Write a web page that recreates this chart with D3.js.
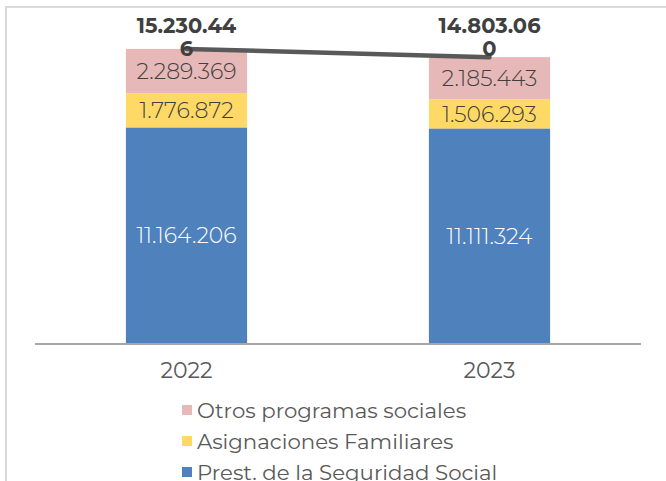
<!DOCTYPE html>
<html>
<head>
<meta charset="utf-8">
<script src="https://cdn.jsdelivr.net/npm/d3@7"></script>
<style>
  body { margin: 0; background: #fff; }
  text { font-family: "Montserrat", "Lato", "Noto Sans", sans-serif; }
</style>
</head>
<body>
<script>
// data
const years = ["2022", "2023"];
const series = ["Prest. de la Seguridad Social", "Asignaciones Familiares", "Otros programas sociales"];
const prestSeguridad = [11164206, 11111324];
const asignaciones = [1776872, 1506293];
const otrosProgramas = [2289369, 2185443];
const totals = [15230446, 14803060];

const colors = ["#4f81bd", "#ffd966", "#e6b8b7"];
const labelColors = ["#ffffff", "#404040", "#404040"];

const W = 666, H = 481;
const svg = d3.select("body").append("svg")
    .attr("width", W)
    .attr("height", H);

// chart frame (light gray, top and left only visible)
svg.append("path")
    .attr("d", "M6,481 L6,7 L666,7")
    .attr("fill", "none")
    .attr("stroke", "#d9d9d9")
    .attr("stroke-width", 2);

const x = d3.scaleBand()
    .domain(years)
    .range([35, 641])
    .paddingInner(0.6)
    .paddingOuter(0.3);

const y = d3.scaleLinear()
    .domain([0, 16000000])
    .range([343, 343 - 16 * 19.31]);

// stacked data
const rows = years.map((yr, i) => ({
    year: yr,
    s0: prestSeguridad[i],
    s1: asignaciones[i],
    s2: otrosProgramas[i]
}));
const stack = d3.stack().keys(["s0", "s1", "s2"])(rows);

const fmt = v => d3.format(",")(v).replace(/,/g, ".");

const layers = svg.selectAll(".layer")
    .data(stack)
    .enter().append("g")
    .attr("class", "layer")
    .attr("fill", (d, i) => colors[i]);

layers.selectAll("rect")
    .data(d => d)
    .enter().append("rect")
    .attr("x", d => x(d.data.year))
    .attr("width", x.bandwidth())
    .attr("y", d => y(d[1]))
    .attr("height", d => y(d[0]) - y(d[1]));

// segment labels
stack.forEach((layer, li) => {
    svg.selectAll(".lbl" + li)
        .data(layer)
        .enter().append("text")
        .attr("x", d => x(d.data.year) + x.bandwidth() / 2)
        .attr("y", d => (y(d[0]) + y(d[1])) / 2)
        .attr("dy", "0.36em")
        .attr("text-anchor", "middle")
        .attr("fill", labelColors[li])
        .attr("font-size", 22)
        .attr("font-weight", 300)
        .text(d => fmt(d[1] - d[0]));
});

// x axis line
svg.append("line")
    .attr("x1", 35).attr("x2", 641)
    .attr("y1", y(0) + 1).attr("y2", y(0) + 1)
    .attr("stroke", "#a6a6a6")
    .attr("stroke-width", 2);

// category labels
svg.selectAll(".cat")
    .data(years)
    .enter().append("text")
    .attr("x", d => x(d) + x.bandwidth() / 2)
    .attr("y", 378)
    .attr("text-anchor", "middle")
    .attr("fill", "#595959")
    .attr("font-size", 22)
    .text(d => d);

// total line
const line = d3.line()
    .x((d, i) => x(years[i]) + x.bandwidth() / 2)
    .y(d => y(d));

svg.append("path")
    .datum(totals)
    .attr("d", line)
    .attr("fill", "none")
    .attr("stroke", "#595959")
    .attr("stroke-width", 4.5)
    .attr("stroke-linecap", "round");

// total labels (wrapped like the original, both at the same height)
totals.forEach((t, i) => {
    const s = fmt(t);
    const cx = x(years[i]) + x.bandwidth() / 2;
    const txt = svg.append("text")
        .attr("text-anchor", "middle")
        .attr("fill", "#404040")
        .attr("font-size", 21)
        .attr("font-weight", 700);
    txt.append("tspan").attr("x", cx).attr("y", 33).text(s.slice(0, -1));
    txt.append("tspan").attr("x", cx).attr("y", 56).text(s.slice(-1));
});

// legend (reverse order)
const legend = svg.selectAll(".legend")
    .data([2, 1, 0])
    .enter().append("g")
    .attr("class", "legend")
    .attr("transform", (d, i) => "translate(182," + (410 + i * 31) + ")");

legend.append("rect")
    .attr("x", 0).attr("y", -5)
    .attr("width", 10).attr("height", 10)
    .attr("fill", d => colors[d]);

legend.append("text")
    .attr("x", 15)
    .attr("dy", "0.36em")
    .attr("fill", "#595959")
    .attr("font-size", 21.3)
    .text(d => series[d]);
</script>
</body>
</html>
